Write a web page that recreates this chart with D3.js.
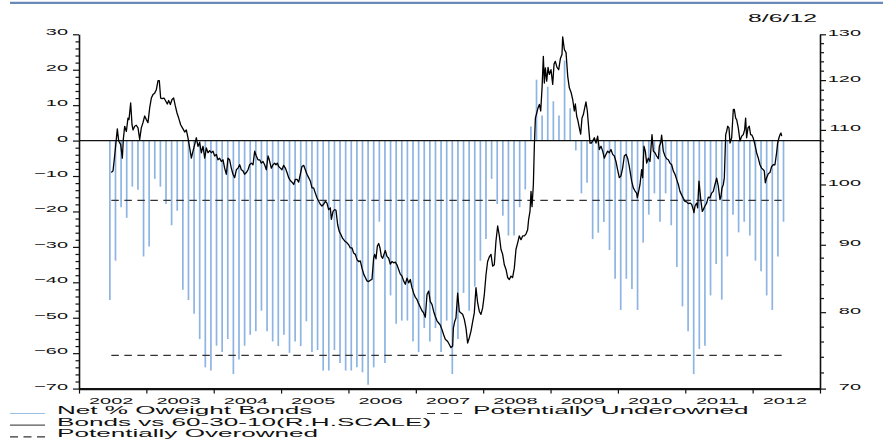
<!DOCTYPE html>
<html><head><meta charset="utf-8">
<script src="https://cdn.jsdelivr.net/npm/d3@7"></script>
<style>
html,body{margin:0;padding:0;background:#fff;}
svg{display:block;font-family:"Liberation Sans",Arial,Helvetica,sans-serif;}
</style></head><body>
<svg id="chart" width="883" height="442"></svg>
<script>
// ---------------- DATA ----------------
const dateLabel = "8/6/12";
const barStartMonth = "2002-06";   // monthly bars, Jun 2002 .. Jun 2012
const barValues = [
-45.0,-33.9,-18.8,-21.8,-13.0,-13.9,-32.7,-29.9,-10.8,-13.0,-17.9,-23.9,-19.8,-42.1,-45.0,-48.9,-56.0,-64.0,-64.9,-57.9,-59.7,-56.0,-65.9,-61.8,-57.9,-54.8,-53.8,-48.0,-53.8,
-56.7,-58.0,-54.8,-59.9,-56.7,-58.0,-51.0,-59.7,-59.1,-64.9,-64.9,-59.1,-62.8,-64.9,-64.9,-64.0,-65.4,-68.9,-64.0,-22.9,-62.8,-43.7,-51.7,-50.8,-50.8,-56.7,-59.7,-52.9,-56.7,-52.9,-59.7,-50.8,-65.9,
-56.0,-43.0,-48.0,-41.2,-33.9,-27.8,-10.8,-17.9,-21.2,-26.8,-26.8,-18.8,-13.8,4.0,17.2,7.1,15.2,11.1,7.1,22.6,9.1,-2.8,-14.9,-11.9,-27.8,-26.0,-23.0,-30.9,-39.0,-47.8,-39.0,-41.9,
-47.8,-28.8,-20.9,-14.9,-22.9,-14.9,-23.9,-35.7,-46.8,-53.8,-65.9,-58.8,-57.9,-43.7,-34.8,-44.9,-32.7,-20.9,-25.9,-22.9,-26.8,-33.9,-36.9,-43.7,-47.8,-32.7,-22.9];

const lineYears = [
2002.480,2002.505,2002.529,2002.569,2002.589,2002.619,2002.643,2002.658,2002.678,2002.703,2002.727,2002.742,2002.767,2002.787,2002.802,2002.826,2002.851,2002.876,2002.901,2002.925,2002.950,2002.975,
2003.000,2003.024,2003.049,2003.074,2003.098,2003.123,2003.148,2003.173,2003.192,2003.212,2003.232,2003.262,2003.287,2003.311,2003.331,2003.356,2003.381,2003.405,2003.430,2003.455,2003.480,2003.509,2003.544,2003.569,2003.593,2003.618,2003.643,2003.668,2003.692,2003.717,2003.742,2003.767,2003.791,2003.816,2003.841,2003.866,2003.890,2003.915,2003.940,2003.964,2003.989,
2004.014,2004.039,2004.063,2004.088,2004.113,2004.138,2004.162,2004.187,2004.212,2004.236,2004.261,2004.286,2004.311,2004.336,2004.360,2004.385,2004.410,2004.434,2004.459,2004.484,2004.509,2004.533,2004.558,2004.583,2004.608,2004.632,2004.657,2004.682,2004.707,2004.731,2004.756,2004.781,2004.806,2004.825,2004.855,2004.880,2004.905,2004.924,2004.944,2004.964,2004.989,
2005.013,2005.038,2005.063,2005.088,2005.112,2005.137,2005.162,2005.187,2005.211,2005.236,2005.261,2005.286,2005.310,2005.335,2005.360,2005.384,2005.409,2005.434,2005.459,2005.483,2005.508,2005.533,2005.558,2005.582,2005.607,2005.632,2005.657,2005.681,2005.706,2005.731,2005.746,2005.771,2005.796,2005.815,2005.840,2005.864,2005.889,2005.914,2005.944,2005.978,
2006.003,2006.028,2006.053,2006.077,2006.102,2006.127,2006.152,2006.176,2006.201,2006.226,2006.250,2006.275,2006.300,2006.325,2006.349,2006.374,2006.389,2006.409,2006.429,2006.449,2006.468,2006.488,2006.508,2006.527,2006.547,2006.572,2006.597,2006.621,2006.646,2006.671,2006.696,2006.720,2006.745,2006.770,2006.795,2006.819,2006.844,2006.869,2006.894,2006.918,2006.943,2006.968,2006.993,
2007.017,2007.042,2007.067,2007.092,2007.116,2007.141,2007.166,2007.191,2007.215,2007.240,2007.265,2007.290,2007.314,2007.339,2007.364,2007.389,2007.413,2007.438,2007.473,2007.497,2007.522,2007.547,2007.557,2007.577,2007.596,2007.621,2007.646,2007.671,2007.695,2007.720,2007.745,2007.769,2007.794,2007.819,2007.844,2007.868,2007.893,2007.918,2007.943,2007.967,2007.992,
2008.017,2008.042,2008.066,2008.091,2008.116,2008.141,2008.165,2008.190,2008.215,2008.240,2008.264,2008.289,2008.314,2008.339,2008.363,2008.388,2008.413,2008.437,2008.462,2008.487,2008.512,2008.536,2008.561,2008.586,2008.611,2008.635,2008.660,2008.675,2008.695,2008.710,2008.725,2008.745,2008.760,2008.775,2008.795,2008.814,2008.834,2008.854,2008.874,2008.893,2008.908,2008.923,2008.943,2008.963,2008.982,
2009.007,2009.032,2009.052,2009.071,2009.096,2009.121,2009.146,2009.170,2009.180,2009.205,2009.230,2009.255,2009.279,2009.304,2009.329,2009.353,2009.368,2009.388,2009.408,2009.427,2009.447,2009.467,2009.487,2009.507,2009.526,2009.546,2009.566,2009.586,2009.605,2009.625,2009.650,2009.675,2009.699,2009.724,2009.749,2009.774,2009.798,2009.823,2009.848,2009.872,2009.897,2009.922,2009.947,2009.971,2009.996,
2010.021,2010.045,2010.070,2010.095,2010.120,2010.144,2010.169,2010.204,2010.229,2010.253,2010.278,2010.288,2010.303,2010.328,2010.352,2010.367,2010.387,2010.407,2010.427,2010.451,2010.476,2010.491,2010.506,2010.526,2010.550,2010.575,2010.600,2010.615,2010.635,2010.649,2010.674,2010.699,2010.723,2010.748,2010.773,2010.798,2010.822,2010.847,2010.872,2010.897,2010.921,2010.946,2010.971,2010.996,
2011.020,2011.045,2011.070,2011.094,2011.119,2011.129,2011.144,2011.169,2011.184,2011.203,2011.218,2011.233,2011.253,2011.268,2011.292,2011.317,2011.342,2011.367,2011.391,2011.416,2011.441,2011.466,2011.490,2011.515,2011.530,2011.545,2011.565,2011.580,2011.600,2011.614,2011.629,2011.649,2011.664,2011.689,2011.713,2011.728,2011.748,2011.763,2011.787,2011.812,2011.837,2011.861,2011.881,2011.896,2011.911,2011.931,2011.950,2011.970,2011.990,
2012.010,2012.034,2012.059,2012.084,2012.109,2012.133,2012.158,2012.173,2012.188,2012.208,2012.232,2012.257,2012.282,2012.307,2012.331,2012.356,2012.371,2012.391,2012.406,2012.421,2012.431];

const lineValues = [
102.1,102.4,105.1,110.2,107.9,107.2,104.7,108.2,110.7,109.7,112.3,112.0,115.3,111.0,110.0,110.7,110.9,110.4,108.2,110.4,111.4,112.7,
112.0,111.4,114.3,116.3,117.0,117.3,118.0,119.9,119.9,116.3,116.2,116.3,115.7,115.1,115.8,115.0,116.0,116.3,114.7,113.3,112.3,111.0,110.2,109.6,110.0,108.5,106.6,104.7,106.0,107.2,108.5,106.9,107.6,105.7,106.9,104.7,106.6,105.7,106.1,105.7,106.0,
105.1,105.4,104.4,104.7,104.1,104.4,102.9,101.8,104.7,104.4,102.9,101.8,101.2,102.6,102.9,103.5,102.6,102.4,101.8,102.1,102.6,103.5,103.8,103.5,106.0,105.1,104.4,104.4,103.8,104.1,103.5,102.6,105.1,104.4,102.9,103.5,103.8,103.5,103.8,103.2,102.9,
102.6,103.4,102.9,102.1,101.2,100.7,100.4,100.0,100.9,100.9,100.4,101.8,103.2,103.4,102.6,101.8,101.2,100.6,99.4,99.4,98.5,97.7,97.1,96.6,96.3,96.6,97.1,96.8,95.7,96.0,94.1,95.4,95.7,95.6,93.2,92.1,91.6,91.0,90.6,90.3,
90.0,89.5,89.5,88.7,88.5,87.7,87.4,87.5,86.4,85.5,85.0,84.5,84.4,84.6,84.7,87.9,88.5,87.8,89.8,90.2,89.5,88.2,87.9,88.5,89.1,88.2,87.9,87.0,87.4,87.2,87.3,86.9,86.2,85.5,85.2,84.5,84.0,84.9,84.2,84.7,83.5,82.7,82.1,
81.8,81.2,80.7,80.2,79.9,79.3,82.5,83.0,81.5,81.1,80.1,79.4,78.8,78.5,78.2,77.6,76.9,76.3,76.0,75.6,75.2,75.4,77.8,78.7,79.2,82.7,80.1,79.9,79.7,79.0,77.8,75.8,76.5,77.4,78.7,79.9,83.5,81.3,80.1,79.7,80.6,
82.5,85.4,87.4,88.1,88.5,86.7,86.9,90.6,93.0,91.4,89.3,88.5,86.9,86.2,85.0,84.7,85.2,85.0,86.4,89.3,90.3,91.4,90.8,91.4,91.4,91.7,92.4,94.1,95.4,98.8,96.2,100.0,107.2,112.3,113.3,114.3,115.0,113.7,118.4,125.1,119.4,122.6,119.8,122.7,121.2,
122.2,119.1,123.4,124.0,122.7,122.2,124.6,125.5,129.4,126.6,125.9,120.8,118.4,117.5,116.0,113.7,115.1,112.7,111.7,110.4,109.2,112.3,113.0,114.3,115.5,113.7,110.4,107.5,107.5,107.9,108.5,107.5,108.8,106.3,106.9,106.0,104.7,105.4,106.0,105.7,106.3,105.4,105.1,104.1,102.6,
101.2,101.5,102.9,105.1,105.4,104.7,103.2,100.6,99.4,98.9,98.5,97.7,98.5,100.0,102.6,101.2,106.9,106.0,103.8,104.7,104.1,106.6,109.1,106.0,105.7,105.1,104.6,106.9,107.5,109.0,106.0,105.1,104.6,104.4,103.8,103.5,102.4,101.8,100.9,100.0,98.8,98.2,97.6,97.1,
97.0,96.7,96.8,96.6,95.7,95.2,96.3,96.8,96.0,100.6,98.8,97.1,95.4,95.7,96.3,96.8,97.8,97.7,98.5,98.8,100.0,101.1,99.7,97.4,97.9,99.4,100.0,101.2,109.1,109.7,110.7,110.4,107.5,108.5,114.0,114.0,112.3,112.0,110.4,107.9,108.8,109.1,110.0,112.3,108.5,110.4,110.7,109.1,109.0,
108.4,107.2,105.7,104.7,103.5,102.9,102.6,102.4,100.3,101.2,101.9,102.1,103.2,103.5,103.5,105.7,107.5,108.5,109.1,109.4,108.8];

const leftTicks  = [-70,-60,-50,-40,-30,-20,-10,0,10,20,30];
const rightTicks = [70,80,90,100,110,120,130];
const yearLabels = [2002,2003,2004,2005,2006,2007,2008,2009,2010,2011,2012];
const overownedLevel  = -16.9;
const underownedLevel = -60.6;
const legendNames = ["Net % Oweight Bonds","Bonds vs 60-30-10(R.H.SCALE)","Potentially Overowned","Potentially Underowned"];

// ---------------- CHART ----------------
const svg = d3.select("#chart");
const L = 79, R = 820, T = 34.3, B = 388.6;
const TXT_SX = 2.1, TXT_FS = 9.5;

const x  = d3.scaleLinear().domain([2002, 2013]).range([L, R]);
const yL = d3.scaleLinear().domain([-70, 30]).range([B, T]);
const yR = d3.scaleLog().domain([70, 130]).range([B, T]);

// top rule
svg.append("line").attr("x1",10).attr("x2",883).attr("y1",2.9).attr("y2",2.9)
   .attr("stroke","#6a88b8").attr("stroke-width",2.4);

// date label
svg.append("text").attr("transform",`translate(817,21.7) scale(2.3,1)`)
   .attr("font-size",10.8).attr("text-anchor","end").attr("fill","#111").text(dateLabel);

// bars
const parseM = d3.timeParse("%Y-%m");
const months = d3.timeMonth.range(parseM(barStartMonth), d3.timeMonth.offset(parseM(barStartMonth), barValues.length));
const bars = months.map((m,i)=>({t: m.getFullYear() + (m.getMonth()+0.5)/12, v: barValues[i]}));
svg.append("g").selectAll("line").data(bars).join("line")
   .attr("x1",d=>x(d.t)).attr("x2",d=>x(d.t))
   .attr("y1",yL(0)).attr("y2",d=>yL(d.v))
   .attr("stroke","#8db4e2").attr("stroke-width",1.7);

// reference lines
const x0 = x(lineYears[0]), x1 = x(lineYears[lineYears.length-1]);
[overownedLevel, underownedLevel].forEach(v=>{
  svg.append("line").attr("x1",x0).attr("x2",x1).attr("y1",yL(v)).attr("y2",yL(v))
     .attr("stroke","#333").attr("stroke-width",1.2).attr("stroke-dasharray","7.5,5.5");
});
svg.append("line").attr("x1",L).attr("x2",R).attr("y1",yL(0)).attr("y2",yL(0))
   .attr("stroke","#111").attr("stroke-width",1.3);

// line series
const lineData = lineYears.map((t,i)=>[t, lineValues[i]]);
svg.append("path").datum(lineData)
   .attr("d", d3.line().x(d=>x(d[0])).y(d=>yR(d[1])))
   .attr("fill","none").attr("stroke","#000").attr("stroke-width",1.3).attr("stroke-linejoin","round");

// axes
function styleAxis(g, sw){
  g.attr("font-family",null).attr("font-size",null);
  g.selectAll(".tick line").attr("stroke","#111").attr("stroke-width",1.2);
  g.select(".domain").attr("stroke","#111").attr("stroke-width",sw);
}
const minorL = d3.range(-70,31,2).filter(v=>v%10!==0);
const gLm = svg.append("g").attr("transform",`translate(${L},0)`)
  .call(d3.axisLeft(yL).tickValues(minorL).tickSize(3.5).tickSizeOuter(0).tickFormat(""));
gLm.select(".domain").remove(); styleAxis(gLm,0);
const gL = svg.append("g").attr("transform",`translate(${L},0)`)
  .call(d3.axisLeft(yL).tickValues(leftTicks).tickSize(6).tickSizeOuter(0).tickFormat(d3.format("d")));
styleAxis(gL,1.6);
gL.selectAll(".tick text").attr("x",0).attr("dy",0).attr("fill","#111")
  .attr("font-size",TXT_FS).attr("text-anchor","end")
  .attr("transform",`translate(-11,0.5) scale(${TXT_SX},1)`);

const minorR = d3.range(70,131,2).filter(v=>v%10!==0);
const gRm = svg.append("g").attr("transform",`translate(${R},0)`)
  .call(d3.axisRight(yR).tickValues(minorR).tickSize(4).tickSizeOuter(0).tickFormat(""));
gRm.select(".domain").remove(); styleAxis(gRm,0);
const gR = svg.append("g").attr("transform",`translate(${R},0)`)
  .call(d3.axisRight(yR).tickValues(rightTicks).tickSize(6).tickSizeOuter(0).tickFormat(d3.format("d")));
styleAxis(gR,1.6);
gR.selectAll(".tick text").attr("x",0).attr("dy",0).attr("fill","#111")
  .attr("font-size",TXT_FS).attr("text-anchor","end")
  .attr("transform",`translate(41,1) scale(${TXT_SX},1)`);

const gB = svg.append("g").attr("transform",`translate(0,${B})`)
  .call(d3.axisBottom(x).tickValues(d3.range(2002,2014)).tickSize(5).tickSizeOuter(0).tickFormat(""));
styleAxis(gB,2.2);
const gBl = svg.append("g").attr("transform",`translate(0,${B})`)
  .call(d3.axisBottom(x).tickValues(yearLabels.map(y=>y+0.5)).tickSize(0).tickFormat(d=>String(Math.floor(d))));
gBl.select(".domain").remove(); styleAxis(gBl,0);
gBl.selectAll(".tick text").attr("y",0).attr("dy",0).attr("fill","#111")
  .attr("font-size",TXT_FS).attr("text-anchor","middle")
  .attr("transform",`translate(-2,15) scale(${TXT_SX},1)`);

// legend
const LG_FS = 11.2, LG_SX = 2.33;
const legend = [
  {x:10, tx:57,  y:414,   name:legendNames[0], stroke:"#9cc0e8", w:1.2, dash:null},
  {x:10, tx:57,  y:425.7, name:legendNames[1], stroke:"#555",    w:1.2, dash:null},
  {x:10, tx:57,  y:437.4, name:legendNames[2], stroke:"#333",    w:1.2, dash:"8,5.5"},
  {x:427,tx:473, y:414,   name:legendNames[3], stroke:"#333",    w:1.2, dash:"8,5.5"}
];
const lg = svg.append("g");
legend.forEach(it=>{
  lg.append("line").attr("x1",it.x).attr("x2",it.x+35).attr("y1",it.y-0.5).attr("y2",it.y-0.5)
    .attr("stroke",it.stroke).attr("stroke-width",it.w).attr("stroke-dasharray",it.dash);
  lg.append("text").attr("transform",`translate(${it.tx},${it.y}) scale(${LG_SX},1)`)
    .attr("font-size",LG_FS).attr("fill","#111").text(it.name);
});
</script>
</body></html>
